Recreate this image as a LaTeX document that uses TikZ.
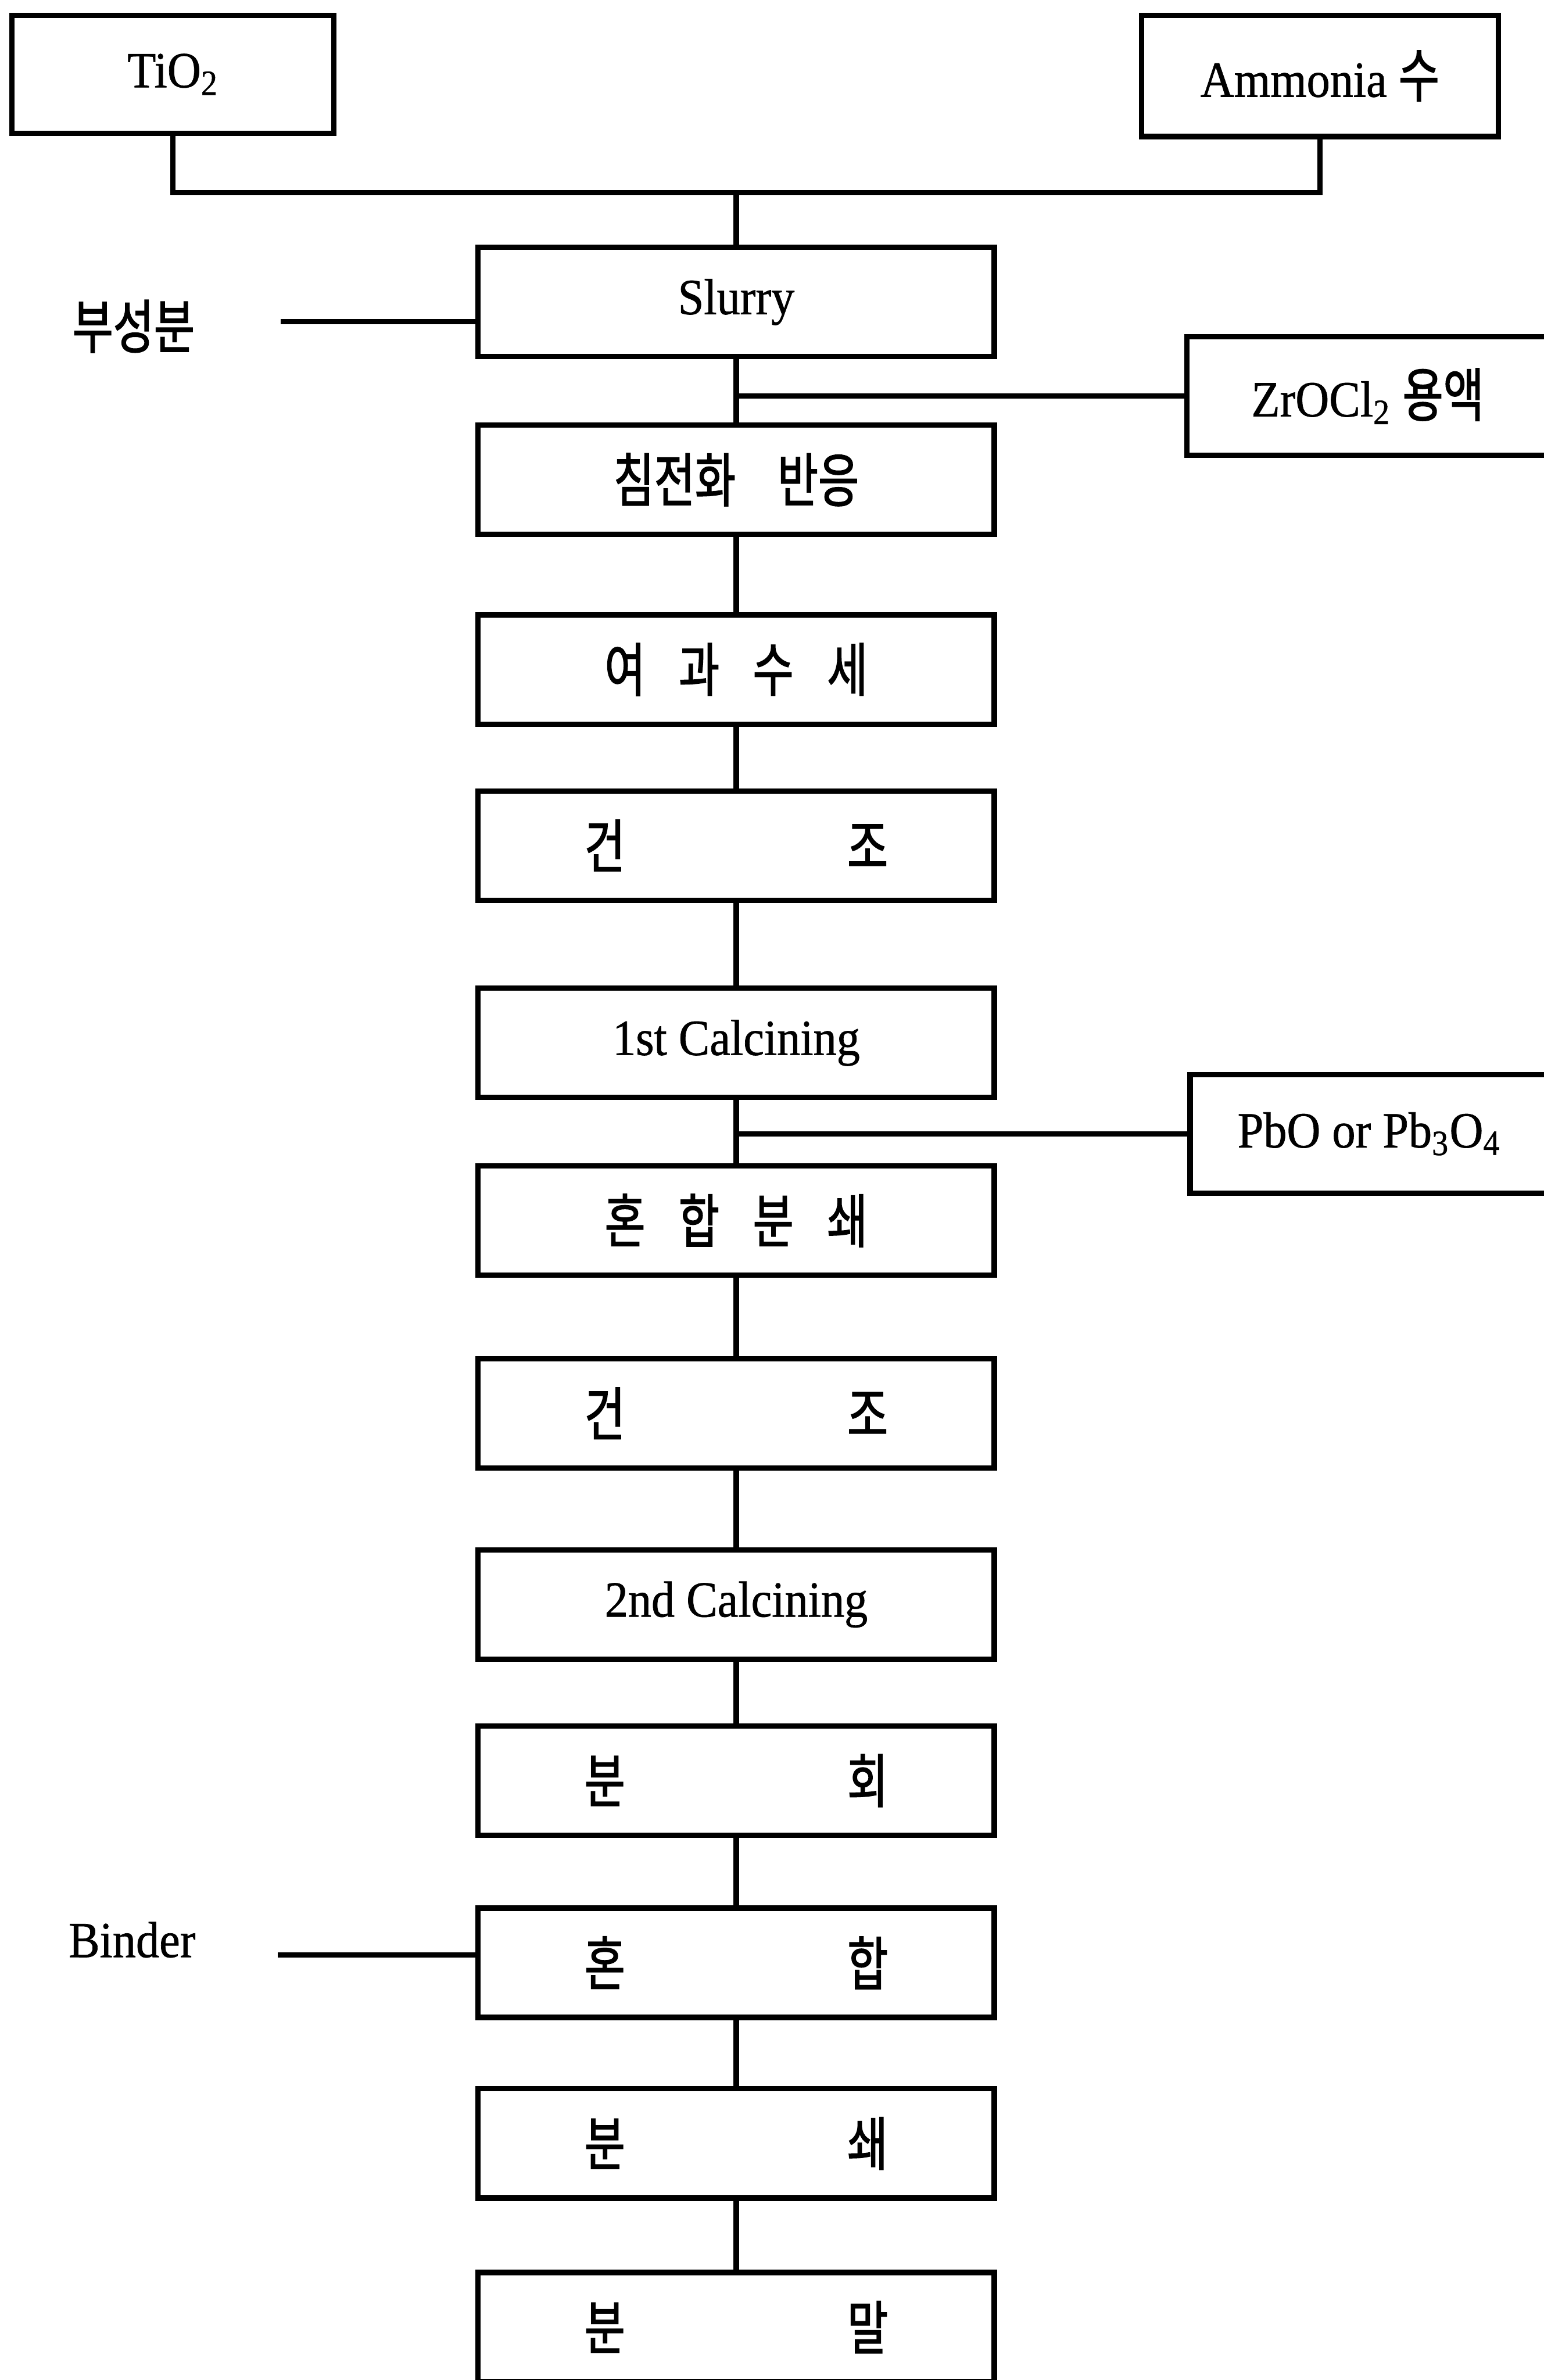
\documentclass[tikz,border=0pt]{standalone}
\usepackage{fontspec}
\setmainfont{Liberation Serif}[FakeStretch=0.92, FakeBold=0.8]
\newfontfamily\kr{Noto Sans CJK KR}[Scale=1.15, FakeStretch=0.76, FakeBold=1.5]
\usetikzlibrary{positioning}

\newcommand{\kgap}{\hspace{0.44cm}}
\newcommand{\kpair}[2]{\makebox[4.0cm]{#1\hfill #2}}

\begin{document}
\begin{tikzpicture}[
    box/.style={rectangle, draw, line width=2pt, minimum width=6.8cm, minimum height=1.44cm, inner sep=0pt, font=\fontsize{19pt}{22pt}\selectfont},
    feed/.style={box, minimum height=1.56cm},
    sidetext/.style={inner sep=0pt, font=\fontsize{19pt}{22pt}\selectfont},
    link/.style={line width=2pt}
]
\useasboundingbox (0,0) rectangle (20.34,-31.36);

% Raw materials
\node[feed, minimum width=4.24cm] (tio2) at (2.28,-0.98) {TiO\textsubscript{2}};
\node[feed, minimum width=4.70cm, minimum height=1.60cm] (ammonia) at (17.39,-1.00) {Ammonia {\kr 수}};
\coordinate (join) at (9.70,-2.54);

% Main process column
\node[box] (slurry) at (9.70,-3.98) {Slurry};
\node[box, below=0.83cm of slurry] (precip) {\kr 침전화\hspace{0.55cm}반응};
\node[box, below=0.99cm of precip] (wash) {\kr 여\kgap 과\kgap 수\kgap 세};
\node[box, below=0.81cm of wash] (dryone) {\kr\kpair{건}{조}};
\node[box, below=1.09cm of dryone] (calcone) {1st Calcining};
\node[box, below=0.83cm of calcone] (mill) {\kr 혼\kgap 합\kgap 분\kgap 쇄};
\node[box, below=1.03cm of mill] (drytwo) {\kr\kpair{건}{조}};
\node[box, below=1.01cm of drytwo] (calctwo) {2nd Calcining};
\node[box, below=0.81cm of calctwo] (crush) {\kr\kpair{분}{회}};
\node[box, below=0.89cm of crush] (mix) {\kr\kpair{혼}{합}};
\node[box, below=0.87cm of mix] (grind) {\kr\kpair{분}{쇄}};
\node[box, below=0.91cm of grind] (powder) {\kr\kpair{분}{말}};

% Additives
\node[feed, minimum width=4.76cm] (zrocl) at (18.02,-5.22) {ZrOCl\textsubscript{2} {\kr 용액}};
\node[feed, minimum width=4.72cm] (pbo) at (18.04,-14.94) {PbO or Pb\textsubscript{3}O\textsubscript{4}};
\node[sidetext] (subcomp) at (1.76,-4.30) {\kr 부성분};
\node[sidetext] (binder) at (1.74,-25.56) {Binder};
\coordinate (subend) at (3.70,-4.24);
\coordinate (bindend) at (3.66,-25.76);

% Connectors
\draw[link] (tio2) |- (join);
\draw[link] (ammonia) |- (join);
\draw[link] (join) -- (slurry);
\draw[link] (subend) -- (subend -| slurry.west);
\draw[link] (slurry) -- (precip);
\draw[link] (zrocl.west) -- (zrocl.west -| slurry.south);
\draw[link] (precip) -- (wash);
\draw[link] (wash) -- (dryone);
\draw[link] (dryone) -- (calcone);
\draw[link] (calcone) -- (mill);
\draw[link] (pbo.west) -- (pbo.west -| calcone.south);
\draw[link] (mill) -- (drytwo);
\draw[link] (drytwo) -- (calctwo);
\draw[link] (calctwo) -- (crush);
\draw[link] (crush) -- (mix);
\draw[link] (bindend) -- (bindend -| mix.west);
\draw[link] (mix) -- (grind);
\draw[link] (grind) -- (powder);

\end{tikzpicture}
\end{document}
